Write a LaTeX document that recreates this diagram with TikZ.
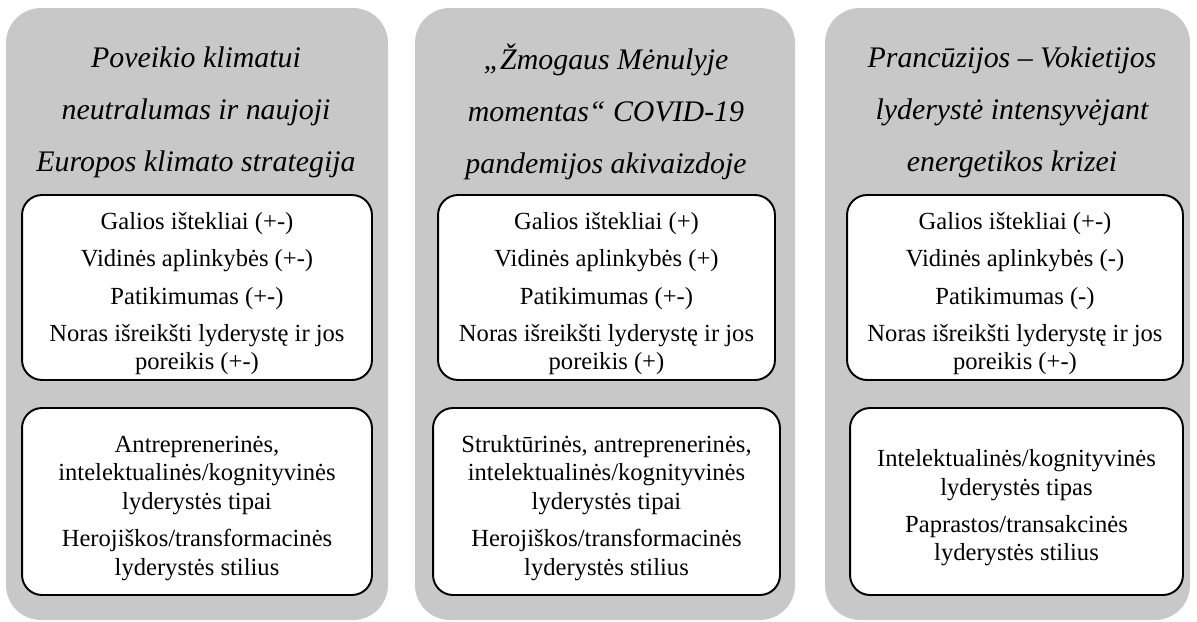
\documentclass[tikz,border=0pt]{standalone}
\usepackage{fontspec}
\setmainfont{Liberation Serif}
\definecolor{panelgrey}{RGB}{200,200,200}
\tikzset{
	panel/.style={fill=panelgrey, draw=none, rounded corners=0.7cm},
	factorbox/.style={draw=black, line width=1.1pt, fill=white, rounded corners=0.4cm, minimum height=3.7cm, align=center, inner sep=0pt, font=\fontsize{14}{16.3}\selectfont},
	heading/.style={align=center, inner sep=0pt, font=\fontsize{17}{29.6}\selectfont\itshape}
}
\begin{document}
\begin{tikzpicture}[x=0.02cm, y=-0.02cm]
		%%%%% START %%%%%
		\useasboundingbox (0, 0) rectangle (1197, 622);
		
		\draw[panel] (6, 8) rectangle (388, 620);
		\draw[panel] (415, 8) rectangle (795, 620);
		\draw[panel] (825, 8) rectangle (1190, 620);
		
		\node[heading] (climateTitle) at (196, 112) {Poveikio klimatui\\neutralumas ir naujoji\\Europos klimato strategija};
		\node[heading] (covidTitle) at (606, 112) {„Žmogaus Mėnulyje\\momentas“ COVID-19\\pandemijos akivaizdoje};
		\node[heading] (energyTitle) at (1012, 112) {Prancūzijos – Vokietijos\\lyderystė intensyvėjant\\energetikos krizei};
		
		% white boxes (text sits a little below the middle)
		\node[factorbox, minimum width=7cm] (climateFactors) at (197, 287.5) {\rule{0pt}{17pt}Galios ištekliai (+-)\\[4.8pt]Vidinės aplinkybės (+-)\\[4.8pt]Patikimumas (+-)\\[4.8pt]Noras išreikšti lyderystę ir jos\\poreikis (+-)};
		\node[factorbox, minimum width=6.74cm] (covidFactors) at (606.5, 287.5) {\rule{0pt}{17pt}Galios ištekliai (+)\\[4.8pt]Vidinės aplinkybės (+)\\[4.8pt]Patikimumas (+-)\\[4.8pt]Noras išreikšti lyderystę ir jos\\poreikis (+)};
		\node[factorbox, minimum width=6.72cm] (energyFactors) at (1015, 287.5) {\rule{0pt}{17pt}Galios ištekliai (+-)\\[4.8pt]Vidinės aplinkybės (-)\\[4.8pt]Patikimumas (-)\\[4.8pt]Noras išreikšti lyderystę ir jos\\poreikis (+-)};
		
		\node[factorbox, minimum width=7cm, minimum height=3.74cm] (climateTypes) at (197, 501.5) {\rule{0pt}{17pt}Antreprenerinės,\\intelektualinės/kognityvinės\\lyderystės tipai\\[4.8pt]Herojiškos/transformacinės\\lyderystės stilius};
		\node[factorbox, minimum width=6.94cm, minimum height=3.74cm] (covidTypes) at (606.5, 501.5) {\rule{0pt}{17pt}Struktūrinės, antreprenerinės,\\intelektualinės/kognityvinės\\lyderystės tipai\\[4.8pt]Herojiškos/transformacinės\\lyderystės stilius};
		\node[factorbox, minimum width=6.66cm, minimum height=3.74cm] (energyTypes) at (1016.5, 501.5) {\rule{0pt}{17pt}Intelektualinės/kognityvinės\\lyderystės tipas\\[4.8pt]Paprastos/transakcinės\\lyderystės stilius};
		%%%%% END %%%%%
	\end{tikzpicture}
\end{document}
